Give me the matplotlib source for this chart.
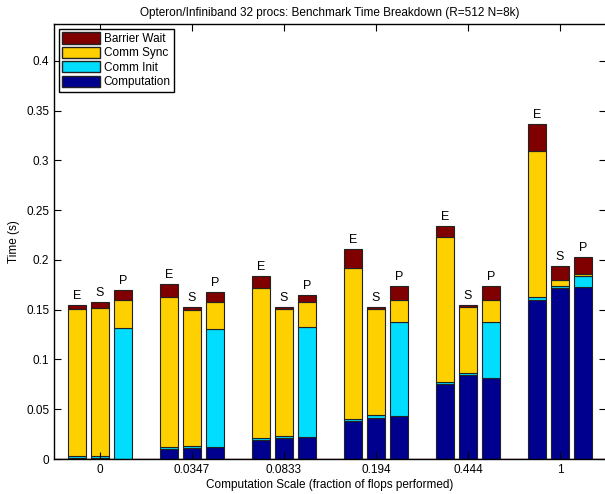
import numpy as np
from matplotlib import pyplot as plt
from matplotlib.patches import Patch

plt.rcParams['font.family'] = ['Liberation Sans', 'DejaVu Sans']

scales = ['0', '0.0347', '0.0833', '0.194', '0.444', '1']
kinds = ['E', 'S', 'P']

# rows = groups, cols = E, S, P
computation = np.array([[0.0010, 0.0010, 0.0000],
                        [0.0101, 0.0107, 0.0118],
                        [0.0194, 0.0211, 0.0218],
                        [0.0379, 0.0415, 0.0429],
                        [0.0754, 0.0841, 0.0817],
                        [0.1601, 0.1719, 0.1729]])
comm_init = np.array([[0.0017, 0.0017, 0.1313],
                      [0.0020, 0.0021, 0.1189],
                      [0.0020, 0.0020, 0.1106],
                      [0.0020, 0.0024, 0.0945],
                      [0.0023, 0.0020, 0.0557],
                      [0.0024, 0.0020, 0.0113]])
comm_sync = np.array([[0.1481, 0.1487, 0.0282],
                      [0.1507, 0.1373, 0.0274],
                      [0.1508, 0.1273, 0.0251],
                      [0.1524, 0.1072, 0.0227],
                      [0.1454, 0.0664, 0.0221],
                      [0.1470, 0.0057, 0.0014]])
barrier = np.array([[0.0037, 0.0061, 0.0100],
                    [0.0134, 0.0027, 0.0094],
                    [0.0120, 0.0027, 0.0076],
                    [0.0184, 0.0017, 0.0134],
                    [0.0111, 0.0020, 0.0140],
                    [0.0275, 0.0144, 0.0171]])

col_comp = '#00008F'
col_init = '#00DDFF'
col_sync = '#FFD000'
col_bar = '#800000'

fig = plt.figure(figsize=(6.05, 4.94), dpi=100)
ax = fig.add_axes([54/605, 35/494, 552/605, 435/494])

groups = np.arange(1, len(scales) + 1)
offsets = [-0.25, 0, 0.25]
w = 0.2
ax.axhline(0, color=col_bar, lw=1, zorder=0)
for j in range(3):
    xs = groups + offsets[j]
    b0 = np.zeros(len(scales))
    for vals, c in [(computation, col_comp), (comm_init, col_init),
                    (comm_sync, col_sync), (barrier, col_bar)]:
        ax.bar(xs, vals[:, j], w, bottom=b0, color=c, edgecolor='#222222', linewidth=0.8)
        b0 = b0 + vals[:, j]
    for x, top in zip(xs, b0):
        ax.text(x, top + 0.003, kinds[j], ha='center', va='bottom', fontsize=9)

ax.set_xlim(0.5, 6.5)
ax.set_ylim(0, 0.437)
ax.set_xticks(groups)
ax.set_xticklabels(scales)
ax.set_yticks(np.arange(0, 0.401, 0.05))
ax.set_yticklabels(['0', '0.05', '0.1', '0.15', '0.2', '0.25', '0.3', '0.35', '0.4'])
ax.tick_params(direction='in', top=True, right=True, length=5, labelsize=8.5)
for s in ax.spines.values():
    s.set_linewidth(1)

ax.set_title('Opteron/Infiniband 32 procs: Benchmark Time Breakdown (R=512 N=8k)', fontsize=8.5, pad=6)
ax.set_xlabel('Computation Scale (fraction of flops performed)', fontsize=8.5, labelpad=2)
ax.set_ylabel('Time (s)', fontsize=8.5)

handles = [Patch(facecolor=col_bar, edgecolor='#222222'),
           Patch(facecolor=col_sync, edgecolor='#222222'),
           Patch(facecolor=col_init, edgecolor='#222222'),
           Patch(facecolor=col_comp, edgecolor='#222222')]
leg = ax.legend(handles, ['Barrier Wait', 'Comm Sync', 'Comm Init', 'Computation'],
                loc='upper left', fontsize=8.5, fancybox=False, framealpha=1,
                edgecolor='black', handlelength=3.2, handleheight=1.1,
                labelspacing=0.15, handletextpad=0.3, borderpad=0.3,
                borderaxespad=0.4)
leg.get_frame().set_linewidth(1)

fig.savefig('out.png', dpi=100)
